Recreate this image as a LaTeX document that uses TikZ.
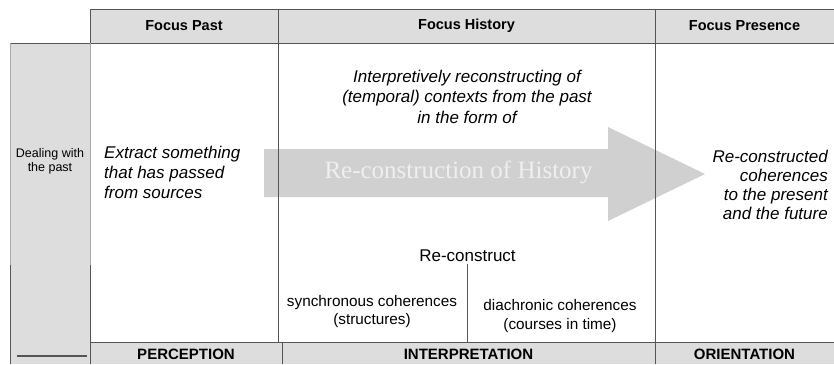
\documentclass[tikz,border=0pt]{standalone}
\usepackage{fontspec}
\setmainfont{Liberation Sans}
\newfontfamily\serifface{Liberation Serif}
\definecolor{cellgray}{HTML}{DDDDDD}
\definecolor{rulegray}{HTML}{555555}
\definecolor{lightrule}{HTML}{AAAAAA}
\definecolor{arrowgray}{HTML}{D0D0D0}
\definecolor{arrowtext}{HTML}{EFEFEF}
\begin{document}
\begin{tikzpicture}[x=1pt,y=-1pt,
  rule/.style={draw=rulegray,line width=1pt},
  head/.style={font=\fontsize{14.5}{17}\selectfont\bfseries,inner sep=0pt},
  cue/.style={font=\fontsize{17}{20}\selectfont\itshape,inner sep=0pt},
  plain/.style={font=\fontsize{15.3}{18.5}\selectfont,inner sep=0pt,align=center}]
\useasboundingbox (0,0) rectangle (834,364);
% shaded header, side column and footer
\fill[cellgray] (90,9) rectangle (834,43);
\fill[cellgray] (10,43) rectangle (90,364);
\fill[cellgray] (90,342) rectangle (834,364);
% big arrow across the history column
\fill[arrowgray] (264,149) -- (608,149) -- (608,127) -- (705,174)
  -- (608,221) -- (608,197) -- (264,197) -- cycle;
\node[font=\serifface\fontsize{25}{25}\selectfont,text=arrowtext,inner sep=0pt]
  (arrowlabel) at (458.5,172) {Re-construction of History};
% grid rules
\draw[rule] (90,9) -- (834,9);
\draw[rule] (10,43) -- (834,43);
\draw[rule] (90,342) -- (834,342);
\draw[rule] (90,9) -- (90,43);
\draw[rule] (278,9) -- (278,342);
\draw[rule] (655,9) -- (655,364);
\draw[rule] (282,342) -- (282,364);
\draw[draw=lightrule,line width=1pt] (10,43) -- (10,265);
\draw[draw=lightrule,line width=1pt] (90,43) -- (90,265);
\draw[rule] (10,265) -- (10,364);
\draw[rule] (90,265) -- (90,364);
\draw[draw=rulegray,line width=1.4pt] (17,356) -- (87,356);
% column heads
\node[head] (hpast) at (184,26) {Focus Past};
\node[head] (hhist) at (466.5,26) {Focus History};
\node[head] (hpres) at (744.5,26) {Focus Presence};
% row head
\node[font=\fontsize{12.5}{14}\selectfont,align=center,inner sep=0pt]
  (rowhead) at (50,161) {Dealing with\\the past};
% cell texts
\node[cue,align=left,anchor=west] (extract) at (104,172)
  {Extract something\\that has passed\\from sources};
\node[cue,align=center,font=\fontsize{17}{20.5}\selectfont\itshape] (interp) at (467,96.5)
  {Interpretively reconstructing of\\(temporal) contexts from the past\\in the form of};
\node[cue,align=right,anchor=east,font=\fontsize{17}{19}\selectfont\itshape] (coher) at (828,185)
  {Re-constructed\\coherences\\to the present\\and the future};
\node[font=\fontsize{17}{20}\selectfont,inner sep=0pt] (recon) at (467.5,256) {Re-construct};
\node[plain,font=\fontsize{15.3}{18}\selectfont] (sync) at (372,312)
  {synchronous coherences\\(structures)};
\node[plain,font=\fontsize{15.3}{19}\selectfont] (dia) at (560,316.5)
  {diachronic coherences\\(courses in time)};
\coordinate (split) at (467.5,342);
\draw[rule] ([yshift=-2pt]recon.south) -- (split);
% footer labels
\node[head,font=\fontsize{15}{17}\selectfont\bfseries] (perc) at (186,354) {PERCEPTION};
\node[head,font=\fontsize{15}{17}\selectfont\bfseries] (inter) at (468.5,354) {INTERPRETATION};
\node[head,font=\fontsize{15}{17}\selectfont\bfseries] (orient) at (744.5,354) {ORIENTATION};
\end{tikzpicture}
\end{document}
